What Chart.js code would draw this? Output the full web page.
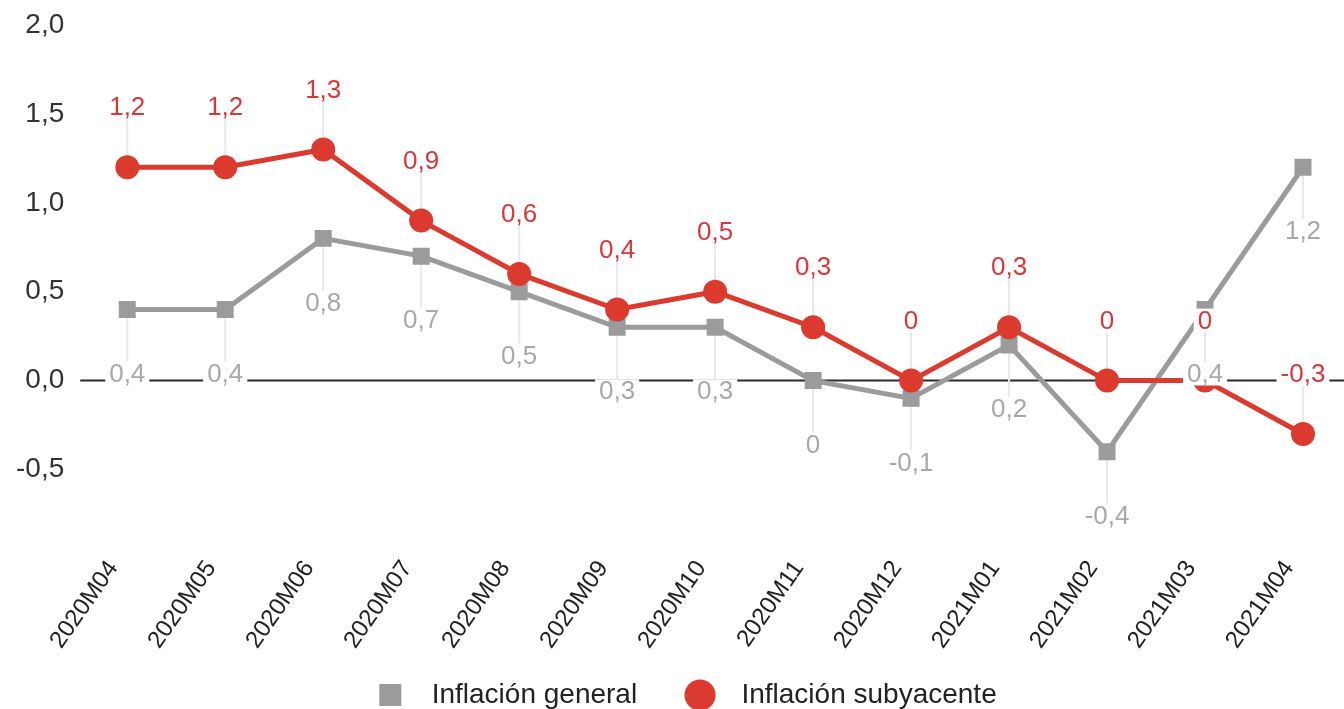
<!DOCTYPE html>
<html>
<head>
<meta charset="utf-8">
<script src="https://cdn.jsdelivr.net/npm/chart.js@4.4.1/dist/chart.umd.min.js"></script>
<style>
  html, body { margin: 0; padding: 0; background: #fff; }
  #wrap { width: 1344px; height: 709px; }
</style>
</head>
<body>
<div id="wrap"><canvas id="grafico"></canvas></div>
<script>
// ---------- Datos
const meses = ['2020M04','2020M05','2020M06','2020M07','2020M08','2020M09','2020M10',
               '2020M11','2020M12','2021M01','2021M02','2021M03','2021M04'];
const general    = [0.4, 0.4, 0.8, 0.7, 0.5, 0.3, 0.3, 0, -0.1, 0.2, -0.4, 0.4, 1.2];
const subyacente = [1.2, 1.2, 1.3, 0.9, 0.6, 0.4, 0.5, 0.3, 0, 0.3, 0, 0, -0.3];
const yTicks     = [-0.5, 0, 0.5, 1, 1.5, 2];

const ROJO = '#dc3a2f';
const GRIS = '#9b9b9b';
const FONT = "'Liberation Sans', Arial, sans-serif";

const fmtDato = v => v === 0 ? '0' : v.toFixed(1).replace('.', ',');
const fmtEje = v => v.toFixed(1).replace('.', ',');

// ---------- Plugin: línea del cero, guías y etiquetas con fondo blanco
const etiquetas = {
  id: 'etiquetas',
  afterLayout(chart) {
    // la leyenda del original está algo desplazada a la derecha
    chart.legend.left += 27;
    chart.legend.right += 27;
  },
  beforeDatasetsDraw(chart) {
    const { ctx, chartArea, scales: { y } } = chart;
    const y0 = y.getPixelForValue(0);
    ctx.save();
    ctx.strokeStyle = '#2b2b2b';
    ctx.lineWidth = 2;
    ctx.beginPath();
    ctx.moveTo(chartArea.left - 47, y0);
    ctx.lineTo(chart.width, y0);
    ctx.stroke();

    // guías verticales punto -> etiqueta
    ctx.strokeStyle = '#e8e8e8';
    ctx.lineWidth = 2;
    chart.data.datasets.forEach((ds, i) => {
      const dir = ds.labelDir;
      chart.getDatasetMeta(i).data.forEach(pt => {
        ctx.beginPath();
        ctx.moveTo(pt.x, pt.y);
        ctx.lineTo(pt.x, pt.y + dir * (ds.labelOff - 12));
        ctx.stroke();
      });
    });
    ctx.restore();
  },
  afterDatasetsDraw(chart) {
    const { ctx } = chart;
    ctx.save();
    ctx.font = `26px ${FONT}`;
    ctx.textAlign = 'center';
    ctx.textBaseline = 'middle';
    chart.data.datasets.forEach((ds, i) => {
      const dir = ds.labelDir;
      chart.getDatasetMeta(i).data.forEach((pt, j) => {
        const txt = fmtDato(ds.data[j]);
        const w = ctx.measureText(txt).width;
        const cy = pt.y + dir * ds.labelOff;
        ctx.fillStyle = '#fff';
        ctx.fillRect(pt.x - w / 2 - 4, cy - 12, w + 8, 24);
        ctx.fillStyle = ds.labelColor;
        ctx.fillText(txt, pt.x, cy + 1);
      });
    });
    ctx.restore();
  }
};

new Chart(document.getElementById('grafico'), {
  type: 'line',
  data: {
    labels: meses,
    datasets: [
      {
        label: 'Inflación general',
        data: general,
        borderColor: GRIS,
        backgroundColor: GRIS,
        pointBackgroundColor: GRIS,
        pointStyle: 'rect',
        pointRadius: 12,
        pointBorderWidth: 0,
        borderWidth: 5,
        labelDir: 1,
        labelOff: 64,
        labelColor: '#a9a9a9',
        order: 2
      },
      {
        label: 'Inflación subyacente',
        data: subyacente,
        borderColor: ROJO,
        backgroundColor: ROJO,
        pointBackgroundColor: ROJO,
        pointStyle: 'circle',
        pointRadius: 12,
        pointBorderWidth: 0,
        borderWidth: 5,
        labelDir: -1,
        labelOff: 60,
        labelColor: '#d8383a',
        order: 1
      }
    ]
  },
  options: {
    responsive: true,
    maintainAspectRatio: false,
    animation: false,
    layout: { padding: { top: 25, left: 16, right: 41, bottom: -10 } },
    scales: {
      x: {
        offset: false,
        afterFit: axis => {
          axis.paddingLeft = 0;
          axis.paddingRight = 0;
          axis.height -= 69;
        },
        grid: { display: false, drawTicks: false },
        border: { display: false },
        ticks: {
          color: '#222',
          font: { family: FONT, size: 24 },
          minRotation: 55,
          maxRotation: 55,
          autoSkip: false,
          padding: 86,
          labelOffset: -14
        }
      },
      y: {
        min: -0.5,
        max: 2,
        afterBuildTicks: axis => { axis.ticks = yTicks.map(v => ({ value: v })); },
        afterFit: axis => {
          axis.paddingTop = 0;
          axis.paddingBottom = 0;
          axis.width -= axis.options.ticks.padding;
        },
        grid: { display: false, drawTicks: false },
        border: { display: false },
        ticks: {
          color: '#333',
          font: { family: FONT, size: 28 },
          padding: 63,
          callback: v => fmtEje(v)
        }
      }
    },
    plugins: {
      legend: {
        position: 'bottom',
        labels: {
          usePointStyle: true,
          boxHeight: 22,
          color: '#222',
          font: { family: FONT, size: 28 },
          padding: 10,
          generateLabels(chart) {
            const items = Chart.defaults.plugins.legend.labels.generateLabels(chart);
            items.sort((a, b) => a.datasetIndex - b.datasetIndex);
            items.forEach((it, k) => {
              it.lineWidth = 0;
              it.text = ' \u2009' + it.text + (k === 0 ? '     ' : '');
            });
            return items;
          }
        }
      },
      tooltip: { enabled: false }
    }
  },
  plugins: [etiquetas]
});
</script>
</body>
</html>
